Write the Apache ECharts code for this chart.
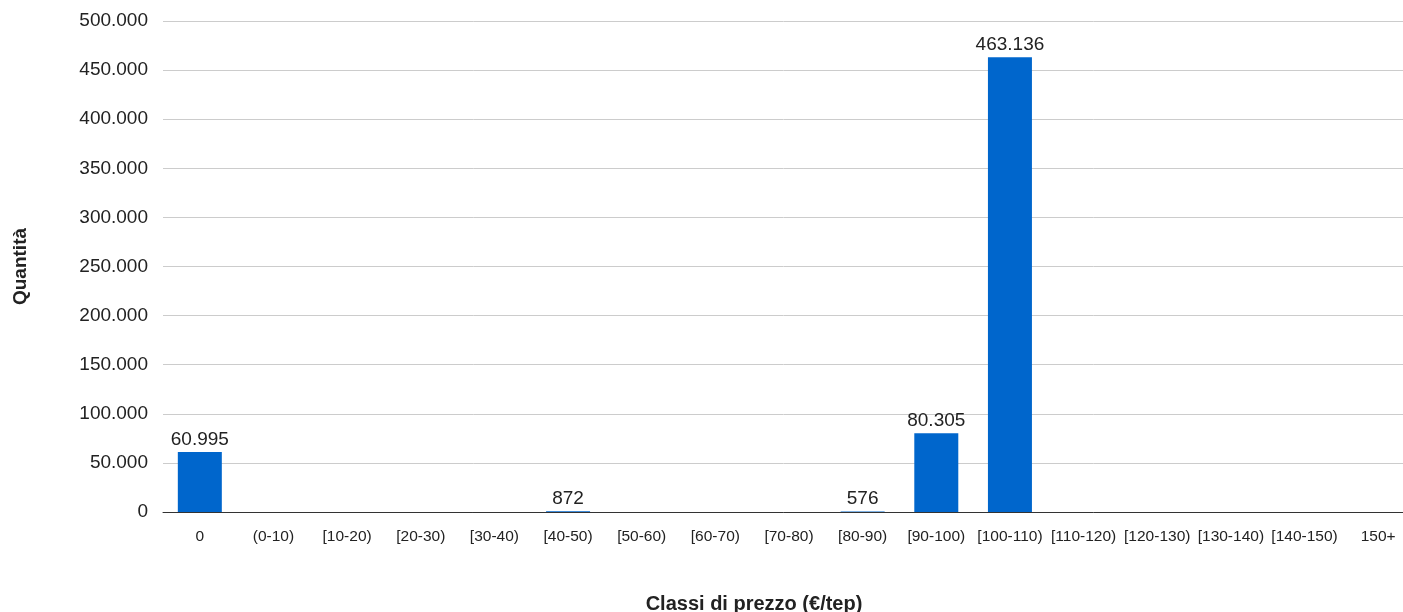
<!DOCTYPE html>
<html>
<head>
<meta charset="utf-8">
<script src="https://cdn.jsdelivr.net/npm/echarts@6/dist/echarts.min.js"></script>
<style>
  html, body { margin: 0; padding: 0; background: #fff; }
  #chart { width: 1403px; height: 612px; }
</style>
</head>
<body>
<div id="chart"></div>
<script>
  // classi di prezzo e quantità
  var categories = ['0', '(0-10)', '[10-20)', '[20-30)', '[30-40)', '[40-50)', '[50-60)', '[60-70)',
    '[70-80)', '[80-90)', '[90-100)', '[100-110)', '[110-120)', '[120-130)', '[130-140)', '[140-150)', '150+'];
  var quantities = [60995, 0, 0, 0, 0, 872, 0, 0, 0, 576, 80305, 463136, 0, 0, 0, 0, 0];
  var yTicks = { min: 0, max: 500000, interval: 50000 };

  // separatore migliaia all'italiana
  function fmt(v) {
    return String(v).replace(/\B(?=(\d{3})+(?!\d))/g, '.');
  }

  var font = '"Liberation Sans", Arial, sans-serif';
  var myChart = echarts.init(document.getElementById('chart'));
  myChart.setOption({
    animation: false,
    textStyle: { fontFamily: font },
    // l'ultima classe esce un po' dal bordo destro, come nell'originale
    grid: { left: 163, top: 21, right: -12, bottom: 100, containLabel: false, outerBoundsMode: 'none' },
    xAxis: {
      type: 'category',
      data: categories,
      name: 'Classi di prezzo (€/tep)',
      nameLocation: 'middle',
      nameGap: 82,
      nameTextStyle: { fontSize: 20, fontWeight: 'bold', color: '#222', padding: [0, 70, 0, 0] },
      axisLine: { lineStyle: { color: '#333' } },
      axisTick: { length: 5, lineStyle: { color: '#333' } },
      axisLabel: { fontSize: 15.5, color: '#222', margin: 17, interval: 0 }
    },
    yAxis: {
      type: 'value',
      min: yTicks.min,
      max: yTicks.max,
      interval: yTicks.interval,
      name: 'Quantità',
      nameLocation: 'middle',
      nameGap: 133,
      nameTextStyle: { fontSize: 19, fontWeight: 'bold', color: '#222' },
      axisLine: { show: false },
      axisTick: { show: false },
      axisLabel: { fontSize: 19, color: '#222', margin: 15, formatter: fmt },
      splitLine: { lineStyle: { color: '#ccc' } }
    },
    series: [{
      type: 'bar',
      data: quantities,
      barWidth: 44,
      itemStyle: { color: '#0066cc' },
      label: {
        show: true,
        position: 'top',
        distance: 3,
        fontSize: 19,
        color: '#222',
        formatter: function (p) { return p.value ? fmt(p.value) : ''; }
      }
    }]
  });
</script>
</body>
</html>
